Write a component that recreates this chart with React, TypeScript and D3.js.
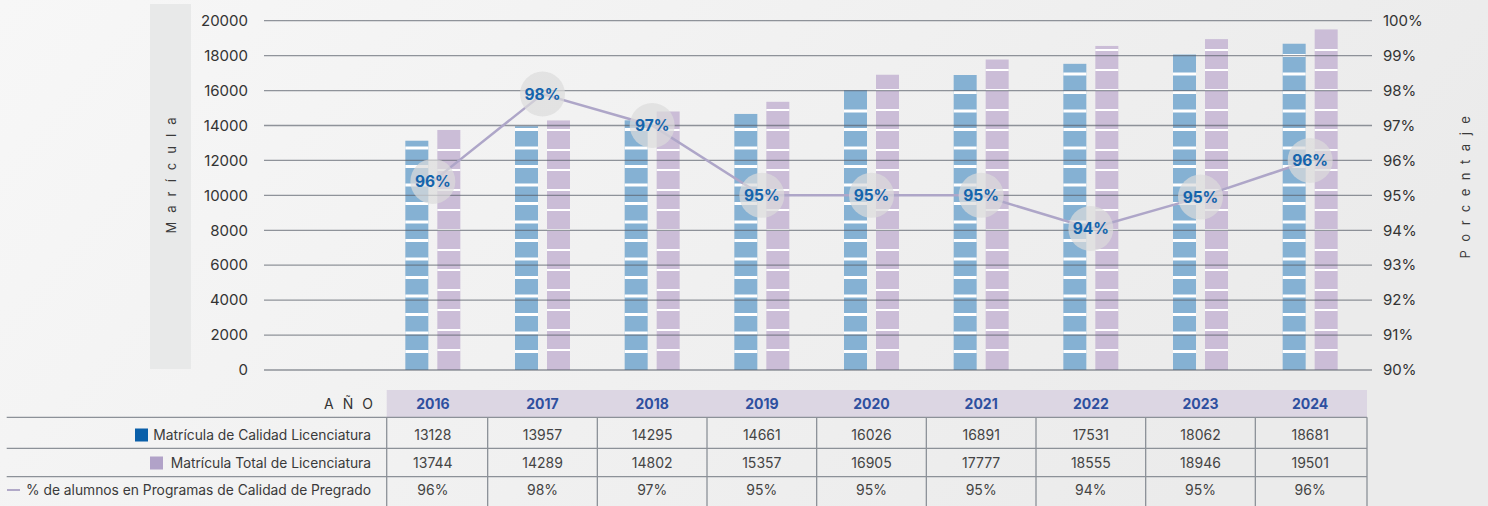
import React from 'react';
import * as d3 from 'd3';

const years = ['2016', '2017', '2018', '2019', '2020', '2021', '2022', '2023', '2024'];
const calidad = [13128, 13957, 14295, 14661, 16026, 16891, 17531, 18062, 18681];
const total = [13744, 14289, 14802, 15357, 16905, 17777, 18555, 18946, 19501];
const pctPlotted = [95.4, 97.9, 97.0, 95.0, 95.0, 95.0, 94.05, 94.95, 96.0];
const pctLabels = ['96%', '98%', '97%', '95%', '95%', '95%', '94%', '95%', '96%'];
const leftTicks = [0, 2000, 4000, 6000, 8000, 10000, 12000, 14000, 16000, 18000, 20000];
const rightTicks = [90, 91, 92, 93, 94, 95, 96, 97, 98, 99, 100];
const seriesNames = ['Matrícula de Calidad Licenciatura', 'Matrícula Total de Licenciatura', '% de alumnos en Programas de Calidad de Pregrado'];

const W = 1488;
const H = 506;
const FONT = 'Inter, "Open Sans", sans-serif';

export default function App() {
  React.useEffect(() => {
    document.body.style.margin = '0';
    document.body.style.overflow = 'hidden';
  }, []);

  const y = d3.scaleLinear().domain([0, 20000]).range([370, 20.7]);
  const yP = d3.scaleLinear().domain([90, 100]).range([370, 20.7]);
  const x = d3.scaleBand<string>().domain(years).range([378, 1365]);
  const inner = d3.scaleBand<string>().domain(['c', 't']).range([0, 55]).paddingInner(9 / 32);
  const bw = x.bandwidth();
  const cx = (yr: string) => (x(yr) as number) + bw / 2;
  const gridX0 = 264;
  const gridX1 = 1372;
  const tableLeft = 386.7;
  const tableRight = (x(years[years.length - 1]) as number) + bw + 2;

  const line = d3.line<number>()
    .x((_, i) => cx(years[i]))
    .y((d) => yP(d));

  const stripes = (value: number, period: number, thick: number, bx: number, w: number, key: string) => {
    const out: React.ReactNode[] = [];
    const top = y(value);
    for (let k = 1; ; k++) {
      const py = y(0) - period * k;
      if (py < top + 3) break;
      out.push(<rect key={key + k} x={bx} y={py - thick / 2} width={w} height={thick} fill="#ffffff" />);
    }
    return out;
  };

  const rowY = [417.3, 448.3, 476.7];
  const rowText = [435, 463, 490];

  return (
    <svg width={W} height={H} style={{ position: 'absolute', left: 0, top: 0 }} fontFamily={FONT}>
      <defs>
        <linearGradient id="bg" x1="0" y1="0" x2="1" y2="0.3">
          <stop offset="0" stopColor="#f7f7f7" />
          <stop offset="1" stopColor="#ebebeb" />
        </linearGradient>
      </defs>
      <rect x={0} y={0} width={W} height={H} fill="url(#bg)" />

      {/* left title band */}
      <rect x={150} y={4} width={41} height={365} fill="#e8e9e9" />
      <text transform="translate(176,171) rotate(-90)" textAnchor="middle" fontSize={13} fill="#3a3a3a" letterSpacing={9}>
        Marícula
      </text>
      <text transform="translate(1470,183) rotate(-90)" textAnchor="middle" fontSize={13} fill="#3a3a3a" letterSpacing={8.5}>
        Porcentaje
      </text>

      {/* bars */}
      {years.map((yr, i) => {
        const gx = cx(yr) - 27.5;
        const bxC = gx + (inner('c') as number);
        const bxT = gx + (inner('t') as number);
        const w = inner.bandwidth();
        return (
          <g key={yr}>
            <rect x={bxC} y={y(calidad[i])} width={w} height={y(0) - y(calidad[i])} fill="#85b1d3" />
            {stripes(calidad[i], 18.5, 3, bxC, w, 'c' + yr)}
            <rect x={bxT} y={y(total[i])} width={w} height={y(0) - y(total[i])} fill="#cbbdd7" />
            {stripes(total[i], 20, 2, bxT, w, 't' + yr)}
          </g>
        );
      })}

      {/* gridlines */}
      {leftTicks.map((t) => (
        <line key={'g' + t} x1={gridX0} x2={gridX1} y1={y(t)} y2={y(t)} stroke="#59606a" strokeOpacity={0.65} strokeWidth={1.3} />
      ))}
      {leftTicks.map((t) => (
        <text key={'l' + t} x={248} y={y(t)} dy="0.35em" textAnchor="end" fontSize={15} fill="#333">
          {t}
        </text>
      ))}
      {rightTicks.map((t) => (
        <text key={'r' + t} x={1383} y={yP(t)} dy="0.35em" textAnchor="start" fontSize={15} fill="#333">
          {t + '%'}
        </text>
      ))}

      {/* percent line */}
      <path d={line(pctPlotted) || ''} fill="none" stroke="#aea6c8" strokeWidth={2.5} />
      {pctPlotted.map((p, i) => (
        <g key={'c' + i}>
          <circle cx={cx(years[i])} cy={yP(p)} r={22.5} fill="#dcdcdc" fillOpacity={0.7} />
          <text x={cx(years[i])} y={yP(p)} dy="0.36em" textAnchor="middle" fontSize={15.5} fontWeight={700} fill="#1464ac">
            {pctLabels[i]}
          </text>
        </g>
      ))}

      {/* table */}
      <rect x={tableLeft} y={390} width={tableRight - tableLeft} height={27} fill="#dcd6e3" />
      <text x={382} y={404} dy="0.35em" textAnchor="end" fontSize={14} fill="#333" letterSpacing={9}>
        AÑO
      </text>
      {years.map((yr) => (
        <text key={'h' + yr} x={cx(yr)} y={404} dy="0.35em" textAnchor="middle" fontSize={14} fontWeight={700} fill="#2e4f9f">
          {yr}
        </text>
      ))}
      {rowY.map((ry, i) => (
        <line key={'hl' + i} x1={6.7} x2={tableRight} y1={ry} y2={ry} stroke="#8c9198" strokeWidth={1.3} />
      ))}
      {[tableLeft, ...years.slice(1).map((yr) => x(yr) as number), tableRight].map((vx, i) => (
        <line key={'vl' + i} x1={vx} x2={vx} y1={417.3} y2={H} stroke="#8c9198" strokeWidth={1.3} />
      ))}
      <rect x={135} y={428.5} width={13} height={13} fill="#0a5fa9" />
      <rect x={150} y={456.5} width={13} height={13} fill="#b1a2c8" />
      <line x1={7} x2={20} y1={490} y2={490} stroke="#b1a9c8" strokeWidth={2} />
      {seriesNames.map((s, i) => (
        <text key={'s' + i} x={371} y={rowText[i]} dy="0.35em" textAnchor="end" fontSize={13.8} fill="#3a3a3a">
          {s}
        </text>
      ))}
      {years.map((yr, i) => (
        <g key={'v' + yr} fontSize={14} fill="#444" textAnchor="middle">
          <text x={cx(yr)} y={rowText[0]} dy="0.35em">{calidad[i]}</text>
          <text x={cx(yr)} y={rowText[1]} dy="0.35em">{total[i]}</text>
          <text x={cx(yr)} y={rowText[2]} dy="0.35em">{pctLabels[i]}</text>
        </g>
      ))}
    </svg>
  );
}
